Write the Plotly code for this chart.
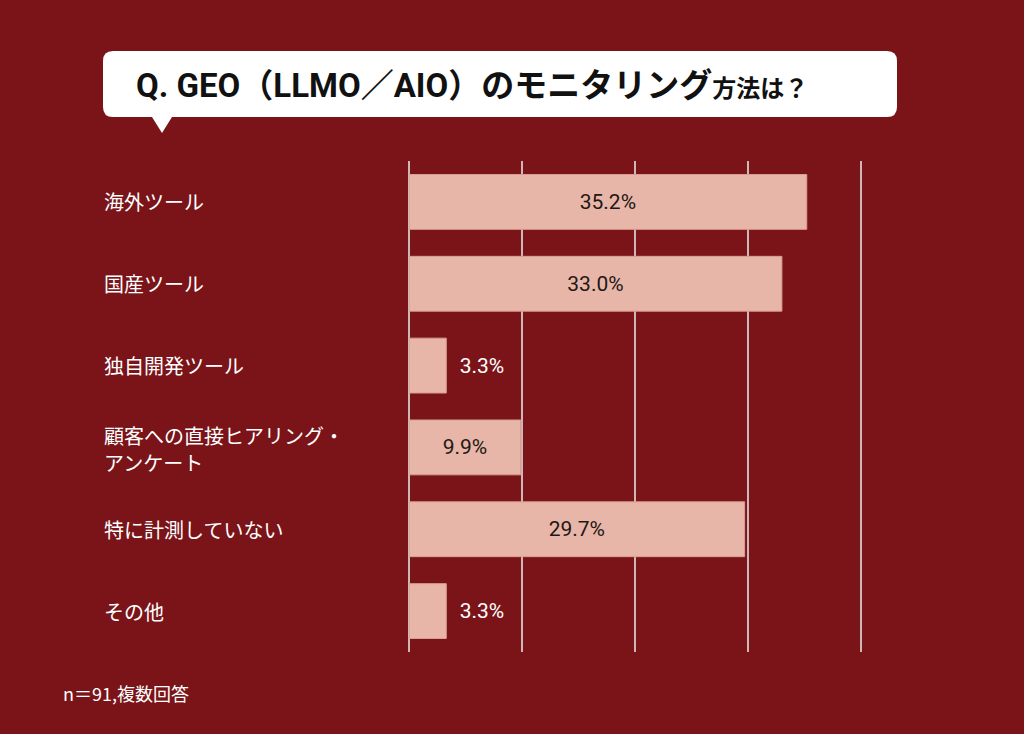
import plotly.graph_objects as go

categories = ["海外ツール", "国産ツール", "独自開発ツール",
              "顧客への直接ヒアリング・<br>アンケート", "特に計測していない", "その他"]
values = [35.2, 33.0, 3.3, 9.9, 29.7, 3.3]
grid_ticks = [0, 10, 20, 30, 40]

W, H = 1024, 734
BG = "#7a1419"
BAR = "#e8b6a8"
FONT = "Noto Sans CJK JP"
NUMFONT = "Roboto, Noto Sans CJK JP"


def px(x):
    return x / W


def py(y):
    return 1 - y / H


positions = ["inside" if v > 5 else "outside" for v in values]
labels = [f"{v:.1f}%" if p == "inside" else "\u00a0\u00a0" + f"{v:.1f}%"
          for v, p in zip(values, positions)]

fig = go.Figure(go.Bar(
    x=values, y=categories, orientation="h",
    marker=dict(color=BAR, line=dict(color="#d79f92", width=1)),
    text=labels,
    textposition=positions,
    insidetextanchor="middle",
    insidetextfont=dict(color="#231815", size=21, family=NUMFONT),
    outsidetextfont=dict(color="#ffffff", size=21, family=NUMFONT),
    cliponaxis=False,
    hoverinfo="skip",
))

fig.update_layout(
    width=W, height=H,
    margin=dict(l=0, r=0, t=0, b=0),
    paper_bgcolor=BG, plot_bgcolor=BG,
    bargap=0.33, showlegend=False,
    font=dict(family=FONT, color="white"),
)
# range a bit past 40 so the last gridline is drawn; domain widened to keep 40 at x=861
fig.update_xaxes(domain=[px(409), px(409 + 452 * 40.3 / 40)], range=[0, 40.3], tickvals=grid_ticks,
                 showticklabels=False, showgrid=True, gridcolor="#cdb7b7", gridwidth=1.5,
                 zeroline=True, zerolinecolor="#cdb7b7", zerolinewidth=1.5, fixedrange=True)
fig.update_yaxes(domain=[py(652), py(161)], autorange="reversed",
                 showticklabels=False, showgrid=False, fixedrange=True)

# category labels, left aligned (two-line label placed line by line)
for c in categories:
    lines = c.split("<br>")
    shifts = [0] if len(lines) == 1 else [12, -15]
    for line, s in zip(lines, shifts):
        fig.add_annotation(x=px(102), xref="paper", y=c, yref="y", text=line,
                           yshift=s, showarrow=False, xanchor="left", align="left",
                           font=dict(size=20, color="white", family=FONT))

# speech bubble title
x0, x1, y0, y1, r = px(103), px(897), py(51), py(117), 10
rx, ry = r / W, r / H
bubble = (f"M {x0+rx},{y0} L {x1-rx},{y0} Q {x1},{y0} {x1},{y0-ry} "
          f"L {x1},{y1+ry} Q {x1},{y1} {x1-rx},{y1} "
          f"L {px(172)},{y1} L {px(162)},{py(133)} L {px(152)},{y1} "
          f"L {x0+rx},{y1} Q {x0},{y1} {x0},{y1+ry} "
          f"L {x0},{y0-ry} Q {x0},{y0} {x0+rx},{y0} Z")
fig.add_shape(type="path", xref="paper", yref="paper", path=bubble,
              fillcolor="white", line=dict(width=0), layer="above")

fig.add_annotation(x=px(134), y=py(86), xref="paper", yref="paper",
                   text="<b>Q. GEO（LLMO／AIO）のモニタリング</b><b><span style='font-size:24px'>方法は？</span></b>",
                   showarrow=False, xanchor="left", yanchor="middle",
                   font=dict(size=33, color="#111111", family=NUMFONT))

fig.add_annotation(x=px(61), y=py(693), xref="paper", yref="paper",
                   text="n＝91,複数回答", showarrow=False, xanchor="left", yanchor="middle",
                   font=dict(size=18, color="white", family=FONT))

fig.write_html("out.html", config={"displayModeBar": False},
               post_script="document.body.style.margin='0px';")
